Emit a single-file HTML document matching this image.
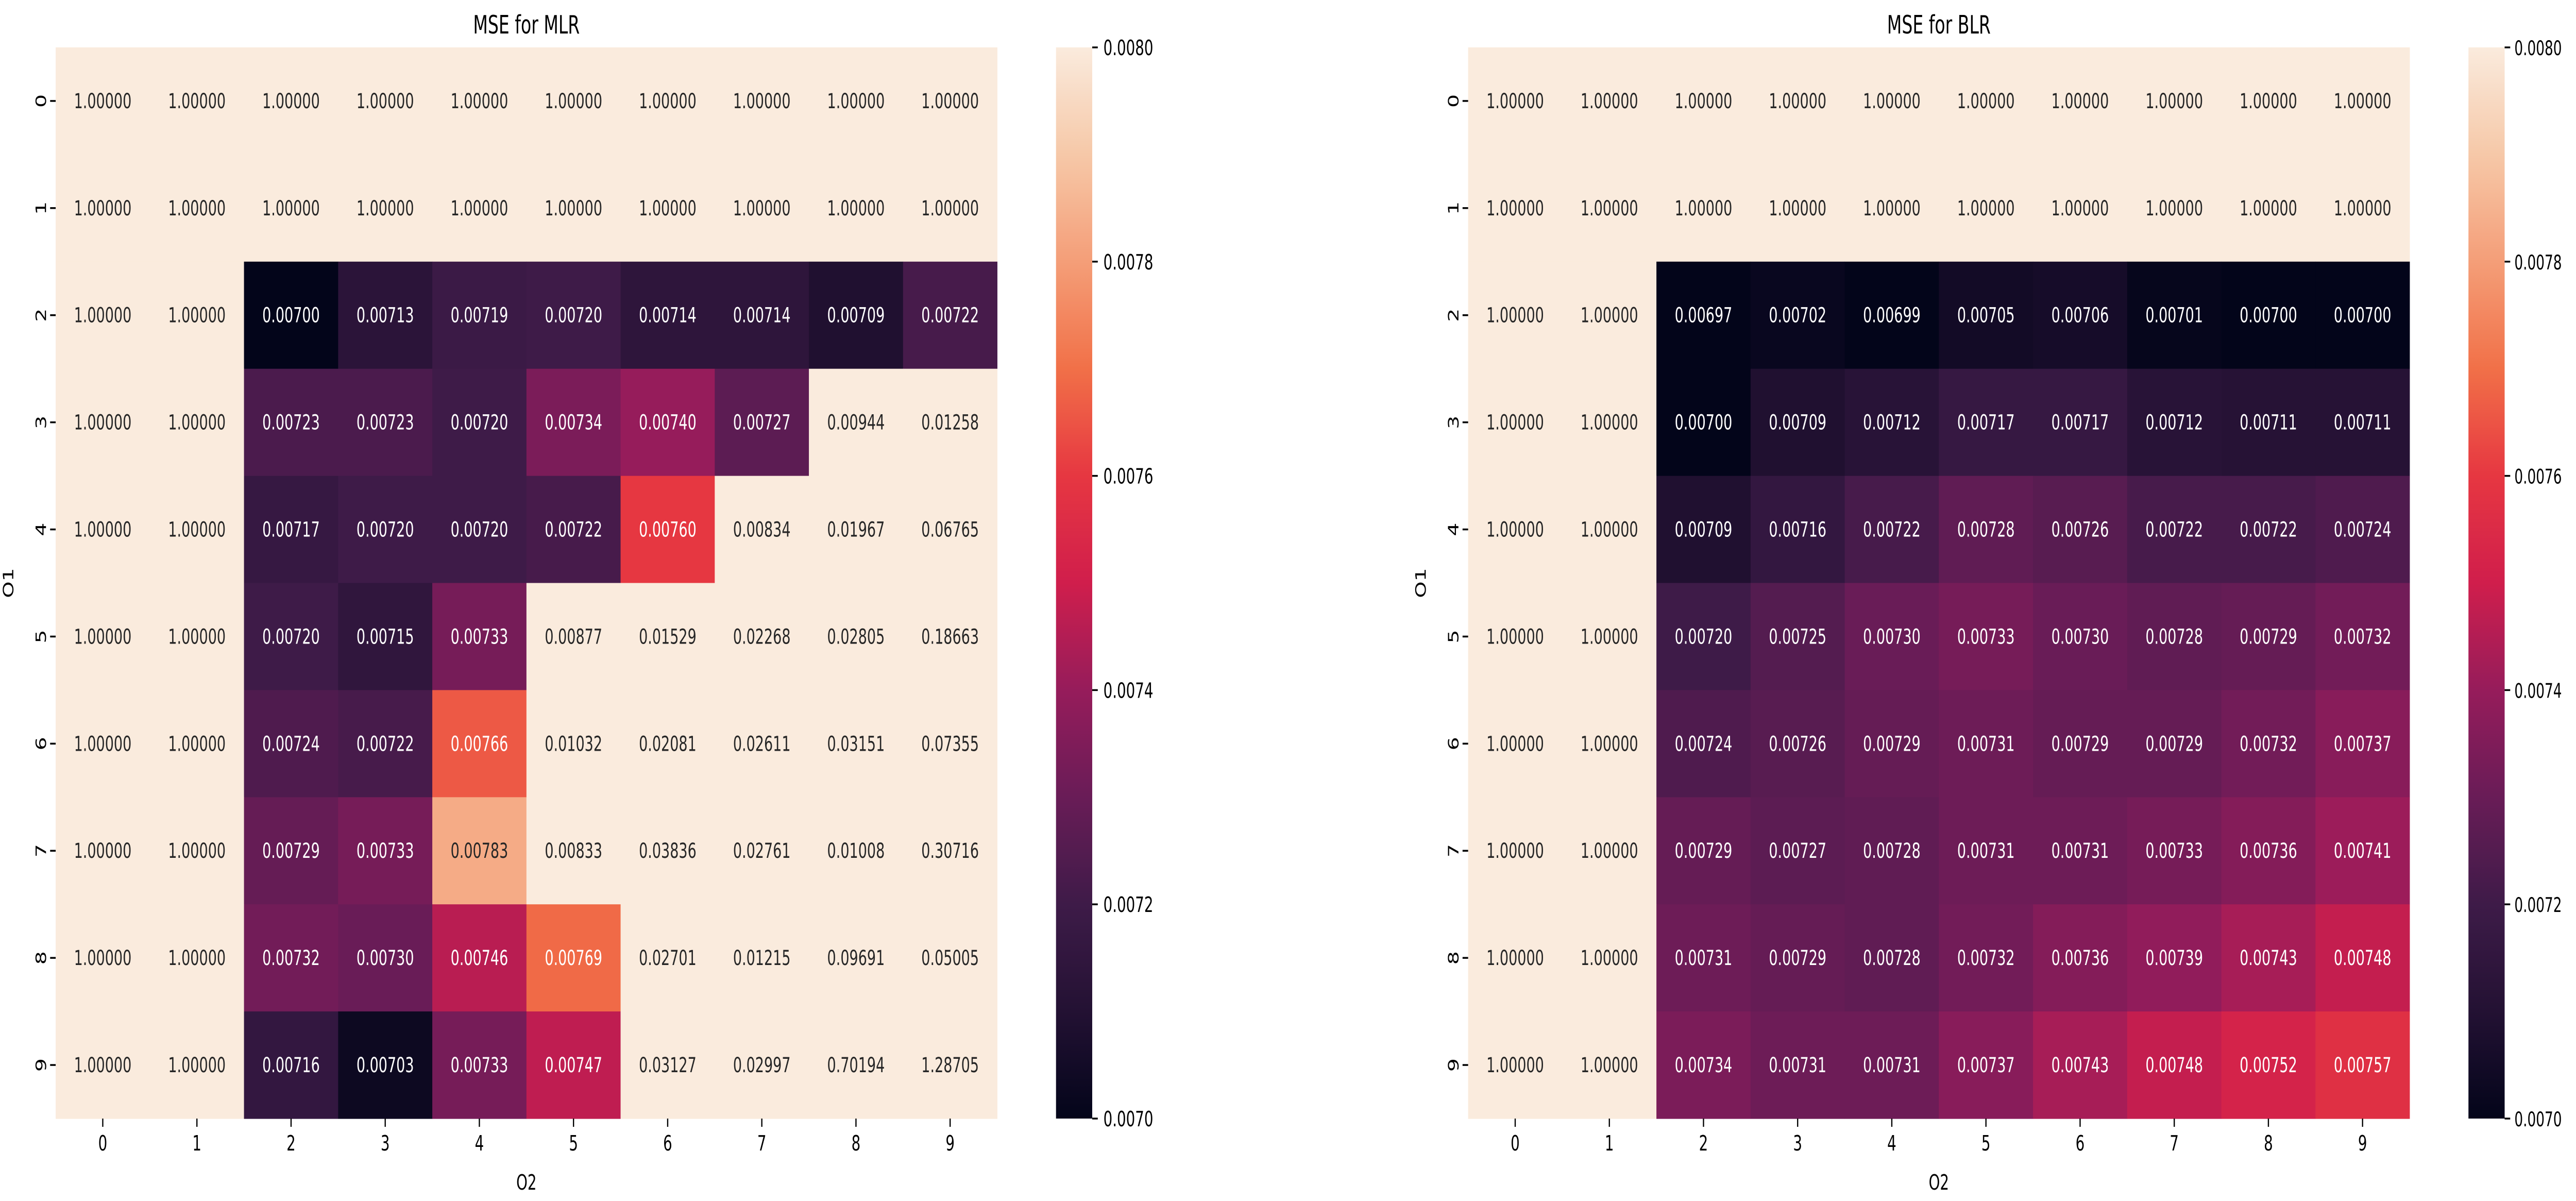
<!DOCTYPE html>
<html><head><meta charset="utf-8"><style>
html,body{margin:0;padding:0;background:#fff;width:100vw;height:100vh;overflow:hidden;}
svg{display:block;width:100vw;height:100vh;font-family:"DejaVu Sans","Liberation Sans",sans-serif;}
</style></head><body>
<svg id="fig" viewBox="0 0 7401 2331" preserveAspectRatio="none" xmlns="http://www.w3.org/2000/svg">
<defs id="defs"></defs>
</svg>
<script>
const rowLabels = ["0","1","2","3","4","5","6","7","8","9"];
const colLabels = ["0","1","2","3","4","5","6","7","8","9"];
const cbTicks = [0.0070,0.0072,0.0074,0.0076,0.0078,0.0080];
const vmin = 0.007, vmax = 0.008;
const mlrValues = [
 [1,1,1,1,1,1,1,1,1,1],
 [1,1,1,1,1,1,1,1,1,1],
 [1,1,0.00700,0.00713,0.00719,0.00720,0.00714,0.00714,0.00709,0.00722],
 [1,1,0.00723,0.00723,0.00720,0.00734,0.00740,0.00727,0.00944,0.01258],
 [1,1,0.00717,0.00720,0.00720,0.00722,0.00760,0.00834,0.01967,0.06765],
 [1,1,0.00720,0.00715,0.00733,0.00877,0.01529,0.02268,0.02805,0.18663],
 [1,1,0.00724,0.00722,0.00766,0.01032,0.02081,0.02611,0.03151,0.07355],
 [1,1,0.00729,0.00733,0.00783,0.00833,0.03836,0.02761,0.01008,0.30716],
 [1,1,0.00732,0.00730,0.00746,0.00769,0.02701,0.01215,0.09691,0.05005],
 [1,1,0.00716,0.00703,0.00733,0.00747,0.03127,0.02997,0.70194,1.28705]
];
const blrValues = [
 [1,1,1,1,1,1,1,1,1,1],
 [1,1,1,1,1,1,1,1,1,1],
 [1,1,0.00697,0.00702,0.00699,0.00705,0.00706,0.00701,0.00700,0.00700],
 [1,1,0.00700,0.00709,0.00712,0.00717,0.00717,0.00712,0.00711,0.00711],
 [1,1,0.00709,0.00716,0.00722,0.00728,0.00726,0.00722,0.00722,0.00724],
 [1,1,0.00720,0.00725,0.00730,0.00733,0.00730,0.00728,0.00729,0.00732],
 [1,1,0.00724,0.00726,0.00729,0.00731,0.00729,0.00729,0.00732,0.00737],
 [1,1,0.00729,0.00727,0.00728,0.00731,0.00731,0.00733,0.00736,0.00741],
 [1,1,0.00731,0.00729,0.00728,0.00732,0.00736,0.00739,0.00743,0.00748],
 [1,1,0.00734,0.00731,0.00731,0.00737,0.00743,0.00748,0.00752,0.00757]
];
const rocket = [[0,3,5,26],[0.1,35,17,51],[0.2,62,27,72],[0.3,105,28,87],[0.4,150,28,91],
 [0.5,208,30,76],[0.6,230,55,65],[0.7,241,112,72],[0.8,244,158,120],[0.9,246,200,168],[1,250,235,221]];
function cmap(t){t=Math.max(0,Math.min(1,t));
 for(let i=1;i<rocket.length;i++){if(t<=rocket[i][0]){const a=rocket[i-1],b=rocket[i];const f=(t-a[0])/(b[0]-a[0]);
  return [0,1,2].map(k=>Math.round(a[k+1]+(b[k+1]-a[k+1])*f));}}
 return rocket[rocket.length-1].slice(1);}
function lum(c){const l=c.map(v=>{v/=255;return v<=0.03928?v/12.92:Math.pow((v+0.055)/1.055,2.4);});return 0.2126*l[0]+0.7152*l[1]+0.0722*l[2];}
const NS="http://www.w3.org/2000/svg";
const svg=document.getElementById('fig');
function el(tag,attrs,parent,text){const e=document.createElementNS(NS,tag);for(const k in attrs)e.setAttribute(k,attrs[k]);if(text!==undefined)e.textContent=text;(parent||svg).appendChild(e);return e;}
const W=2705,H=2079,OY=92;
const defs=document.getElementById('defs');
const grad=el('linearGradient',{id:'cbgrad',x1:0,y1:1,x2:0,y2:0},defs);
for(let i=0;i<=40;i++){const c=cmap(i/40);el('stop',{offset:(i/40),'stop-color':`rgb(${c})`},grad);}
function drawPanel(ox,values,title,key,cbLabelFont,cbLabelGap){
 const g=el('g',{});
 
 
 const cw=W/colLabels.length, ch=H/rowLabels.length;
 const xs=j=>ox+j*cw, ys=i=>OY+i*ch;
 values.forEach((row,i)=>row.forEach((v,j)=>{
  const c=cmap((v-vmin)/(vmax-vmin));
  const r=el('rect',{x:xs(j),y:ys(i),width:cw+0.6,height:ch+0.6,fill:`rgb(${c})`},g);
  
  
  const t=el('text',{x:xs(j)+cw/2,y:ys(i)+ch/2+14,'text-anchor':'middle','font-size':40,fill:lum(c)>0.408?'#262626':'#ffffff'},g,v.toFixed(5));
  
  
 }));
 rowLabels.forEach((lab,i)=>{
  const y=ys(i)+ch/2;
  el('line',{x1:ox-16,x2:ox,y1:y,y2:y,stroke:'#000','stroke-width':3.5},g);
  const t=el('text',{x:ox-42,y:y,'text-anchor':'middle','font-size':41,transform:`rotate(-90 ${ox-42} ${y})`,dy:14},g,lab);
  
  
 });
 colLabels.forEach((lab,j)=>{
  const x=xs(j)+cw/2;
  el('line',{x1:x,x2:x,y1:OY+H,y2:OY+H+16,stroke:'#000','stroke-width':3.5},g);
  const t=el('text',{x:x,y:OY+H+62,'text-anchor':'middle','font-size':41},g,lab);
  
  
 });
 const tt=el('text',{x:ox+W/2,y:65,'text-anchor':'middle','font-size':49},g,title);
 
 
 const xl=el('text',{x:ox+W/2,y:2309,'text-anchor':'middle','font-size':41},g,'O2');
 
 
 const ylx=ox-136, yly=OY+H/2;
 const yl=el('text',{x:ylx,y:yly,'text-anchor':'middle','font-size':41,dy:14,transform:`rotate(-90 ${ylx} ${yly})`},g,'O1');
 
 
 const cbx=ox+2874, cbw=104;
 const cb=el('rect',{x:cbx,y:OY,width:cbw,height:H,fill:'url(#cbgrad)'},g);
 
 
 cbTicks.forEach(v=>{
  const y=OY+H-(v-vmin)/(vmax-vmin)*H;
  el('line',{x1:cbx+cbw,x2:cbx+cbw+16,y1:y,y2:y,stroke:'#000','stroke-width':3.5},g);
  const t=el('text',{x:cbx+cbw+cbLabelGap,y:y+15,'font-size':cbLabelFont},g,v.toFixed(4));
  
  
 });
}
drawPanel(160,mlrValues,'MSE for MLR','mlr',41,32);
drawPanel(4218,blrValues,'MSE for BLR','blr',39,28);
</script>
</body></html>
